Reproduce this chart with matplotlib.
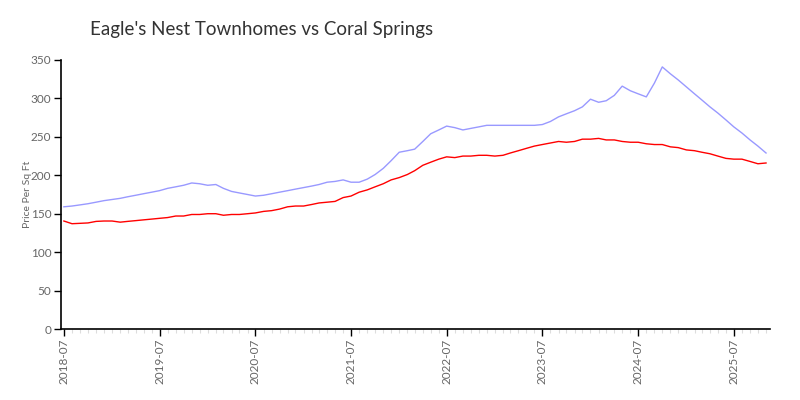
import matplotlib
matplotlib.use("Agg")
import matplotlib.pyplot as plt
import matplotlib.dates as mdates
import pandas as pd

title = "Eagle's Nest Townhomes vs Coral Springs"
ylabel = "Price Per Sq Ft"
start_month = "2018-07"
n_months = 89

coral_springs = [159, 160, 161.5, 163, 165, 167, 168.5, 170, 172, 174, 176, 178,
                 180, 183, 185, 187, 190, 189, 187, 188, 183, 179, 177, 175,
                 173, 174, 176, 178, 180, 182, 184, 186, 188, 191, 192, 194,
                 191, 191, 195, 201, 209, 219, 230, 232, 234, 244, 254, 259,
                 264, 262, 259, 261, 263, 265, 265, 265, 265, 265, 265, 265,
                 266, 270, 276, 280, 284, 289, 299, 295, 297, 304, 316, 310,
                 306, 302, 320, 341, 332, 324, 315, 306, 298, 289, 281, 272,
                 263, 255, 246, 238, 229]

eagles_nest = [140.5, 137, 137.5, 138, 140, 140.5, 140.5, 139, 140, 141, 142, 143,
               144, 145, 147, 147, 149, 149, 150, 150, 148, 149, 149, 150,
               151, 153, 154, 156, 159, 160, 160, 162, 164, 165, 166, 171,
               173, 178, 181, 185, 189, 194, 197, 201, 206, 213, 217, 221,
               224, 223, 225, 225, 226, 226, 225, 226, 229, 232, 235, 238,
               240, 242, 244, 243, 244, 247, 247, 248, 246, 246, 244, 243,
               243, 241, 240, 240, 237, 236, 233, 232, 230, 228, 225, 222,
               221, 221, 218, 215, 216]

yticks = [0, 50, 100, 150, 200, 250, 300, 350]

dates = pd.date_range(start_month + "-01", periods=n_months, freq="MS")

plt.rcParams['font.family'] = ['Lato', 'DejaVu Sans']

fig = plt.figure(figsize=(8, 4), dpi=100)
ax = fig.add_axes([0.07625, 0.1775, 0.8862, 0.6725])

ax.plot(dates, coral_springs, color="#9999ff", lw=1.0)
ax.plot(dates, eagles_nest, color="#ff0000", lw=1.0)

ax.set_ylim(0, 350)
ax.set_yticks(yticks)
ax.set_xlim(pd.Timestamp("2018-06-20"), pd.Timestamp("2025-11-16"))

ax.xaxis.set_major_locator(mdates.MonthLocator(bymonth=7))
ax.xaxis.set_major_formatter(mdates.DateFormatter("%Y-%m"))
ax.xaxis.set_minor_locator(mdates.MonthLocator())

for s in ["top", "right"]:
    ax.spines[s].set_visible(False)
for s in ["left", "bottom"]:
    ax.spines[s].set_color("black")
    ax.spines[s].set_linewidth(1.2)

ax.tick_params(axis="both", which="major", length=5, width=1, color="black",
               labelcolor="#666666", labelsize=8.5, pad=2)
ax.tick_params(axis="x", which="minor", length=3, width=0.8, color="#dddddd")
for lbl in ax.get_xticklabels():
    lbl.set_rotation(90)

ax.set_ylabel(ylabel, fontsize=7.5, color="#666666")
ax.yaxis.set_label_coords(-0.041, 0.5)
fig.text(0.1125, 0.925, title, fontsize=13.5, color="#333333",
         ha="left", va="center")

fig.savefig("out.png", dpi=100)
